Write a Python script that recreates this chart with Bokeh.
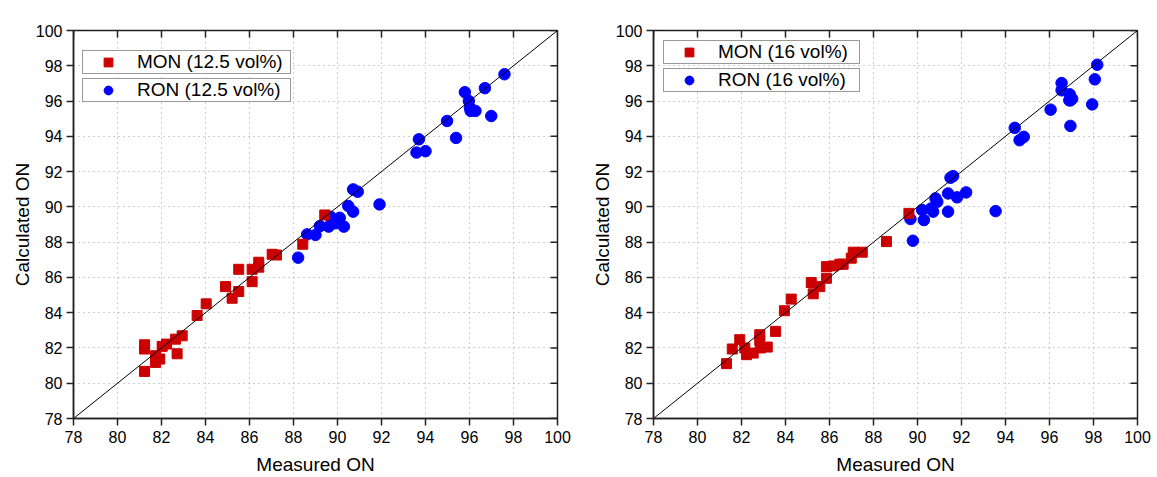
import math
from bokeh.plotting import figure
from bokeh.layouts import row
from bokeh.models import (Range1d, FixedTicker, Legend, LegendItem, Label)
from bokeh.embed import file_html
from bokeh.resources import INLINE

# ---------------- data ----------------
ticks = list(range(78, 101, 2))
diag = [78, 100]

a_mon_x = [81.23, 81.23, 81.23, 81.73, 81.73, 81.92, 82.03, 82.23, 82.64, 82.94, 82.71, 83.62, 84.03,
           84.91, 85.21, 85.51, 85.51, 86.12, 86.12, 86.42, 86.42, 87.03, 87.23, 88.42, 89.42]
a_mon_y = [82.18, 81.94, 80.67, 81.56, 81.18, 81.37, 82.09, 82.22, 82.50, 82.69, 81.67, 83.84, 84.50,
           85.48, 84.82, 85.20, 86.46, 85.76, 86.46, 86.86, 86.58, 87.31, 87.27, 87.88, 89.54]
a_ron_x = [88.21, 88.62, 89.00, 89.20, 89.60, 89.68, 89.91, 90.10, 90.29, 90.49, 90.71, 90.71, 90.92,
           91.91, 93.59, 93.70, 94.00, 94.98, 95.39, 95.79, 95.97, 96.02, 96.05, 96.27, 96.70, 96.99, 97.59]
a_ron_y = [87.12, 88.44, 88.41, 88.91, 88.88, 89.44, 89.07, 89.38, 88.88, 90.05, 89.73, 90.99, 90.86,
           90.14, 93.08, 93.83, 93.16, 94.87, 93.91, 96.50, 96.00, 95.62, 95.44, 95.44, 96.73, 95.15, 97.52]

b_mon_x = [81.32, 81.58, 81.92, 82.15, 82.23, 82.53, 82.83, 82.83, 82.86, 83.17, 83.55, 83.95, 84.26,
           85.17, 85.26, 85.56, 85.86, 85.86, 86.17, 86.47, 86.62, 86.99, 87.08, 87.49, 88.59, 89.61]
b_mon_y = [81.11, 81.94, 82.47, 82.00, 81.62, 81.71, 82.75, 82.43, 82.00, 82.05, 82.94, 84.11, 84.77,
           85.71, 85.07, 85.48, 85.95, 86.61, 86.65, 86.75, 86.75, 87.09, 87.43, 87.43, 88.03, 89.63]
b_ron_x = [89.68, 89.79, 90.21, 90.29, 90.62, 90.71, 90.82, 90.90, 91.39, 91.39, 91.50, 91.62, 91.80,
           92.21, 93.55, 94.42, 94.64, 94.83, 96.05, 96.55, 96.55, 96.92, 96.90, 96.95, 97.03, 96.95,
           97.94, 98.06, 98.17]
b_ron_y = [89.31, 88.08, 89.82, 89.25, 89.91, 89.73, 90.48, 90.29, 90.76, 89.73, 91.65, 91.74, 90.54,
           90.82, 89.76, 94.48, 93.78, 93.97, 95.51, 97.02, 96.61, 96.38, 96.04, 96.04, 96.13, 94.59,
           95.81, 97.23, 98.06]

FONT = "Liberation Sans"
RED = "#CC0000"
BLUE = "#0000FF"
INK = "#222222"


def style_axis(ax):
    ax.ticker = FixedTicker(ticks=ticks)
    ax.axis_line_color = INK
    ax.axis_line_width = 1.5
    ax.major_tick_line_color = INK
    ax.major_tick_line_width = 1.5
    ax.minor_tick_line_color = None
    ax.major_tick_out = 7
    ax.major_tick_in = 0
    ax.major_label_text_font = FONT
    ax.major_label_text_color = "black"
    ax.major_label_text_font_size = "16px"
    ax.axis_label_text_font = FONT
    ax.axis_label_text_font_size = "19px"
    ax.axis_label_text_font_style = "normal"
    ax.axis_label_text_color = "black"


def make_panel(letter, mx, my, rx, ry, mon_label, ron_label, border_left, border_right,
               leg_x, leg_top_y, leg_label_w):
    width = border_left + 484 + border_right
    p = figure(width=width, height=477, x_range=Range1d(78, 100), y_range=Range1d(78, 100),
               output_backend="svg", toolbar_location=None, min_border_left=border_left,
               min_border_right=border_right, min_border_top=30, min_border_bottom=59,
               background_fill_color="white", border_fill_color="white")
    p.outline_line_color = INK
    p.outline_line_width = 1.5

    style_axis(p.xaxis[0])
    style_axis(p.yaxis[0])
    p.xaxis.axis_label = "Measured ON"
    p.yaxis.axis_label = "Calculated ON"
    p.xaxis.major_label_standoff = 5
    p.xaxis.axis_label_standoff = 8
    p.yaxis.major_label_standoff = 4
    p.yaxis.axis_label_standoff = 0

    for g in (p.xgrid[0], p.ygrid[0]):
        g.ticker = FixedTicker(ticks=ticks)
        g.grid_line_color = "#a0a0a0"
        g.grid_line_dash = "1 4"
        g.grid_line_width = 1

    # mirror ticks on top and right (inward), clipped by the frame
    p.scatter(ticks, [100] * len(ticks), marker="dash", size=14, angle=math.pi / 2,
              line_color=INK, line_width=1.5)
    p.scatter([100] * len(ticks), ticks, marker="dash", size=14,
              line_color=INK, line_width=1.5)

    r_ron = p.scatter(rx, ry, marker="circle", size=11.5, fill_color=BLUE, line_color=BLUE)
    r_mon = p.scatter(mx, my, marker="square", size=10, fill_color=RED, line_color=RED)
    p.line(diag, diag, line_color="black", line_width=1)

    for i, (lab, rend) in enumerate([(mon_label, r_mon), (ron_label, r_ron)]):
        leg = Legend(items=[LegendItem(label=lab, renderers=[rend])],
                     location=(leg_x, leg_top_y - 28 * i), margin=0, padding=0,
                     glyph_width=50, glyph_height=22, label_standoff=4,
                     label_width=leg_label_w, label_height=22, spacing=0,
                     label_text_font=FONT, label_text_font_size="19px", label_text_color="black",
                     border_line_color="#333333", border_line_width=1,
                     background_fill_color="white", background_fill_alpha=1.0)
        p.add_layout(leg)

    p.add_layout(Label(x=78, y=100, x_offset=3, y_offset=5, text=letter, text_font=FONT,
                       text_font_size="17px", text_color="black", text_baseline="alphabetic"))
    return p


pa = make_panel("a", a_mon_x, a_mon_y, a_ron_x, a_ron_y, "MON (12.5 vol%)", "RON (12.5 vol%)",
                73, 30, 9, 344, 153)
pb = make_panel("b", b_mon_x, b_mon_y, b_ron_x, b_ron_y, "MON (16 vol%)", "RON (16 vol%)",
                66, 20, 10, 354, 141)

layout = row(pa, pb)
open("out.html", "w").write(file_html(layout, INLINE))
